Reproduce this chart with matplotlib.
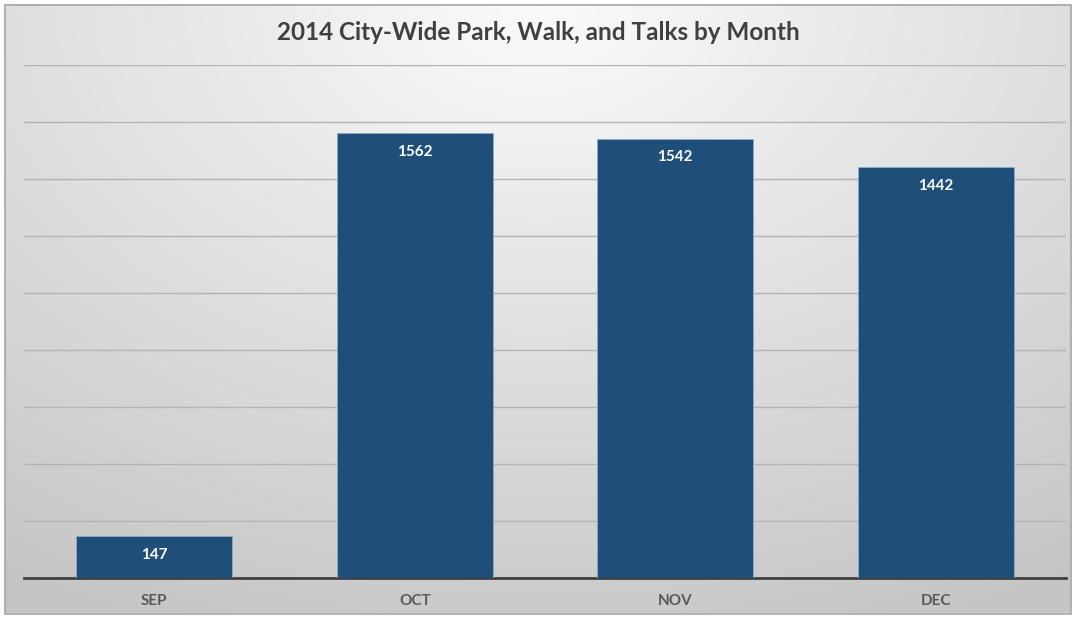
import numpy as np
import matplotlib
matplotlib.use("Agg")
import matplotlib.pyplot as plt
from matplotlib.patches import Rectangle

months = ["SEP", "OCT", "NOV", "DEC"]
counts = [147, 1562, 1542, 1442]
title = "2014 City-Wide Park, Walk, and Talks by Month"

W, H = 1076, 618
fig = plt.figure(figsize=(W / 100, H / 100), dpi=100)
fig.patch.set_facecolor("white")

# gradient background
bg = fig.add_axes([5 / W, 5 / H, 1066 / W, 609 / H], zorder=0)
yy, xx = np.mgrid[0:300, 0:540]
cx, cy = 270, 0
d = np.sqrt(((xx - cx) / 500.0) ** 2 + ((yy - cy) / 330.0) ** 2)
d = np.clip(d, 0, 1)
vals = 0.985 - 0.21 * d
img = np.dstack([vals, vals, vals])
bg.imshow(img, aspect="auto", extent=[0, 1, 0, 1], origin="upper")
bg.set_axis_off()
fig.patches.append(Rectangle((5 / W, 4 / H), 1066 / W, 609 / H, transform=fig.transFigure,
                             fill=False, edgecolor="#a6a6a6", linewidth=1.2, zorder=1))

ax = fig.add_axes([24 / W, 40 / H, 1042 / W, 513 / H], zorder=2)
ax.patch.set_alpha(0)
x = np.arange(len(months))
bars = ax.bar(x, counts, width=0.6, color="#1f4e79", edgecolor="#8eaacb", linewidth=0.6, zorder=3)
ax.set_xlim(-0.5, len(months) - 0.5)
ax.set_ylim(0, 1800)
ax.set_yticks(np.arange(0, 1801, 200))
ax.yaxis.grid(True, color="#b4b4b4", linewidth=1.0, zorder=0)
ax.set_axisbelow(True)
ax.tick_params(axis="y", left=False, labelleft=False)
ax.tick_params(axis="x", bottom=False, pad=8)
ax.set_xticks(x)
ax.set_xticklabels(months, fontsize=11, fontweight="bold", color="#595959", family="Lato")
for s in ["top", "right", "left"]:
    ax.spines[s].set_visible(False)
ax.spines["bottom"].set_color("#404040")
ax.spines["bottom"].set_linewidth(2)

for xi, v in zip(x, counts):
    ax.annotate(str(v), (xi, v), xytext=(0, -13.5), textcoords="offset points",
                ha="center", va="center", color="white", fontsize=11, fontweight="bold",
                family="Lato", zorder=4)

fig.text(0.5, 1 - 32 / H, title, ha="center", va="center", fontsize=17.5, fontweight="bold",
         color="#404040", family="Lato")

fig.savefig("out.png", dpi=100)
